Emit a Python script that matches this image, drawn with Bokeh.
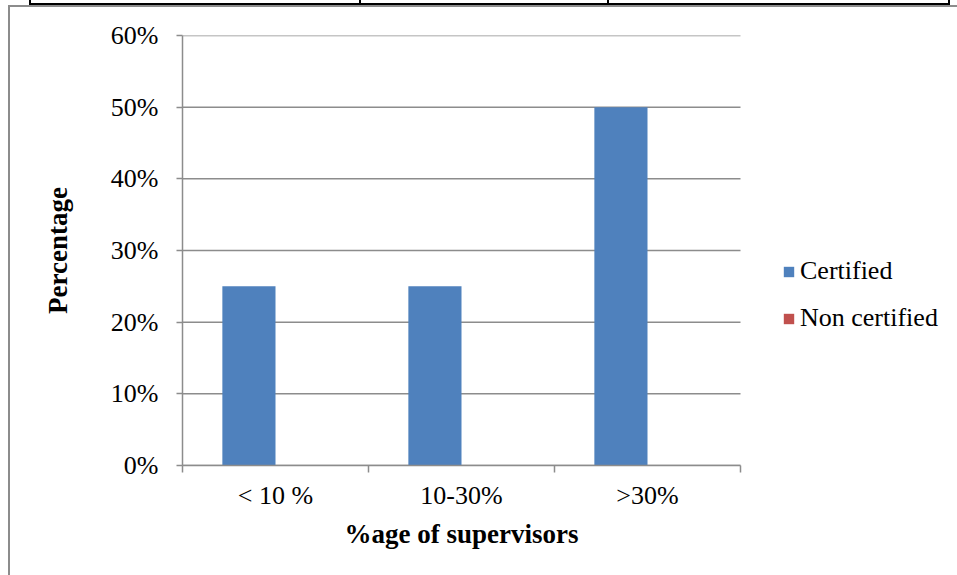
from bokeh.plotting import figure
from bokeh.models import (ColumnDataSource, Range1d, FixedTicker, PrintfTickFormatter,
                          Legend, LegendItem, InlineStyleSheet, Title)
from bokeh.transform import dodge
from bokeh.embed import file_html
from bokeh.resources import INLINE

# Share of supervisors, by group
categories = ["< 10 %", "10-30%", ">30%"]
certified = [25, 25, 50]
non_certified = [0, 0, 0]
series_names = ["Certified", "Non certified"]
y_ticks = [0, 10, 20, 30, 40, 50, 60]
x_title = "%age of supervisors"
y_title = "Percentage"

FONT = "Liberation Serif"
GRID = "#8c8c8c"
BLUE = "#4F81BD"
RED = "#C0504D"

n = len(categories)
pos = [i + 0.5 for i in range(n)]
source = ColumnDataSource(dict(pos=pos, cat=categories,
                               certified=certified, non_certified=non_certified))

# the frame runs on to the right edge so the legend can sit beside the bars;
# the bar area itself is 558 px wide out of the 775 px frame
x_end = n * 775 / 558

p = figure(width=957, height=575, output_backend="svg", toolbar_location=None,
           x_range=Range1d(0, x_end), y_range=Range1d(0, 60),
           min_border_left=182, min_border_right=0, min_border_top=35,
           min_border_bottom=110)
p.outline_line_color = None
p.background_fill_color = "white"
p.border_fill_color = "white"

# horizontal gridlines across the bar area only
p.segment(x0=0, x1=n, y0=y_ticks, y1=y_ticks, line_color=GRID, line_width=1.5)

bar_w = 1 / 3.5
r1 = p.vbar(x=dodge("pos", -bar_w / 2), top="certified", width=bar_w, bottom=0,
            source=source, fill_color=BLUE, line_color=None)
r2 = p.vbar(x=dodge("pos", bar_w / 2), top="non_certified", width=bar_w, bottom=0,
            source=source, fill_color=RED, line_color=None)

# x axis: labels centred on each group, tick marks on group boundaries
xa = p.xaxis[0]
xa.bounds = (0, n)
xa.ticker = FixedTicker(ticks=pos, minor_ticks=list(range(n + 1)))
xa.major_label_overrides = {v: c for v, c in zip(pos, categories)}
xa.major_tick_out = 0
xa.major_tick_in = 0
xa.minor_tick_out = 7
xa.minor_tick_in = 0
xa.minor_tick_line_color = GRID
xa.minor_tick_line_width = 1.5
xa.axis_line_color = GRID
xa.axis_line_width = 1.5
xa.major_label_text_font = FONT
xa.major_label_text_font_size = "26px"
xa.major_label_text_color = "black"
xa.major_label_standoff = 8

# x axis title, placed under the bar area rather than the whole frame
p.add_layout(Title(text=x_title, align="left", offset=162,
                   text_font=FONT, text_font_style="bold", text_font_size="27px",
                   text_color="black", standoff=8), "below")

ya = p.yaxis[0]
ya.ticker = FixedTicker(ticks=y_ticks, minor_ticks=[])
ya.formatter = PrintfTickFormatter(format="%d%%")
ya.major_tick_out = 6
ya.major_tick_in = 0
ya.major_tick_line_color = GRID
ya.major_tick_line_width = 1.5
ya.minor_tick_line_color = None
ya.axis_line_color = GRID
ya.axis_line_width = 1.5
ya.major_label_text_font = FONT
ya.major_label_text_font_size = "26px"
ya.major_label_text_color = "black"
ya.major_label_standoff = 18
ya.axis_label = y_title
ya.axis_label_text_font = FONT
ya.axis_label_text_font_style = "bold"
ya.axis_label_text_font_size = "27px"
ya.axis_label_text_color = "black"
ya.axis_label_standoff = 35

p.xgrid.grid_line_color = None
p.ygrid.grid_line_color = None

legend = Legend(items=[LegendItem(label=series_names[0], renderers=[r1]),
                       LegendItem(label=series_names[1], renderers=[r2])],
                location=(600, 132), orientation="vertical",
                glyph_width=13, glyph_height=13, label_standoff=5,
                label_text_font=FONT, label_text_font_size="26px",
                label_text_color="black", spacing=17, padding=0, margin=0,
                border_line_color=None, background_fill_alpha=0)
p.add_layout(legend, "center")

# every text in the chart is set in the serif face; page furniture: bottom edge
# of the table above, and the chart's frame
p.stylesheets = [InlineStyleSheet(css="""
text, tspan { font-family: "Liberation Serif", serif !important; }
:host::before {
  content: ""; position: absolute; z-index: 10; pointer-events: none;
  left: 29px; top: 0px; width: 921px; height: 5px; box-sizing: border-box;
  border-left: 2px solid #000; border-right: 2px solid #000; border-bottom: 2px solid #000;
  background:
    linear-gradient(#000, #000) 328px 0 / 2px 100% no-repeat,
    linear-gradient(#000, #000) 576px 0 / 2px 100% no-repeat;
}
:host::after {
  content: ""; position: absolute; z-index: 10; pointer-events: none;
  left: 8px; top: 5px; width: 949px; height: 570px; box-sizing: border-box;
  border-left: 2px solid #8c8c8c; border-top: 2px solid #8c8c8c;
}
""")]

open("out.html", "w").write(file_html(p, INLINE))
